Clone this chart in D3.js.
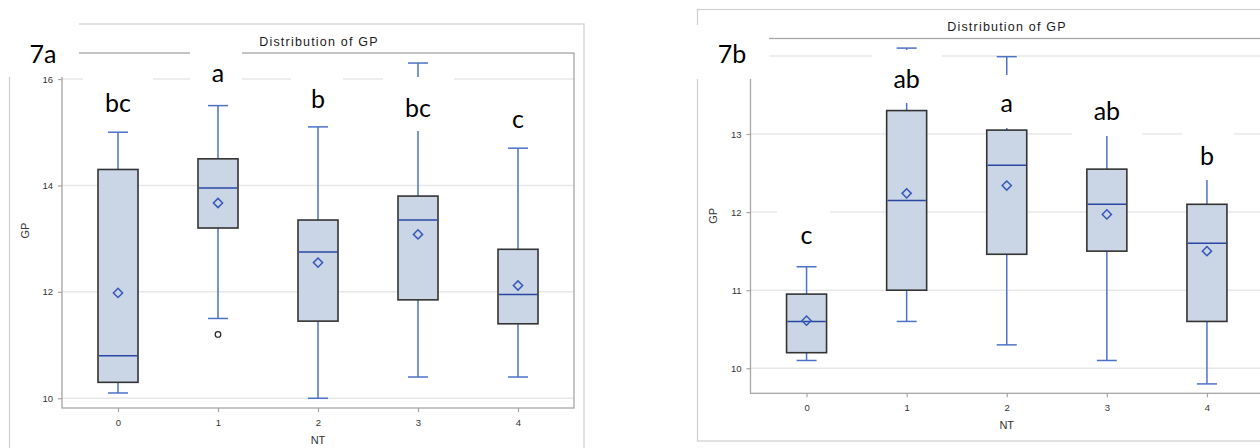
<!DOCTYPE html>
<html>
<head>
<meta charset="utf-8">
<script src="https://cdn.jsdelivr.net/npm/d3@7/dist/d3.min.js"></script>
<style>
  html, body { margin: 0; padding: 0; background: #fff; }
  svg { display: block; }
</style>
</head>
<body>
<svg id="chart" width="1260" height="448"></svg>
<script>
// ---- data: GP by NT, two trials ----
const categories = ["0", "1", "2", "3", "4"];

// Trial 7a
const gpA_min    = [10.1, 11.5, 10.0, 10.4, 10.4];
const gpA_q1     = [10.3, 13.2, 11.45, 11.85, 11.4];
const gpA_median = [10.8, 13.95, 12.75, 13.35, 11.95];
const gpA_q3     = [14.3, 14.5, 13.35, 13.8, 12.8];
const gpA_max    = [15.0, 15.5, 15.1, 16.3, 14.7];
const gpA_mean   = [11.98, 13.67, 12.55, 13.08, 12.12];
const gpA_outliers = [[], [11.2], [], [], []];
const lettersA   = ["bc", "a", "b", "bc", "c"];
const gridA      = [10, 12, 14, 16];
const tickLabelsA = [10, 12, 14, 16];

// Trial 7b
const gpB_min    = [10.1, 10.6, 10.3, 10.1, 9.8];
const gpB_q1     = [10.2, 11.0, 11.46, 11.5, 10.6];
const gpB_median = [10.6, 12.15, 12.6, 12.1, 11.6];
const gpB_q3     = [10.95, 13.3, 13.05, 12.55, 12.1];
const gpB_max    = [11.3, 14.1, 13.99, 13.2, 12.5];
const gpB_mean   = [10.61, 12.24, 12.34, 11.97, 11.5];
const gpB_outliers = [[], [], [], [], []];
const lettersB   = ["c", "ab", "a", "ab", "b"];
const gridB      = [10, 11, 12, 13, 14];
const tickLabelsB = [10, 11, 12, 13];

const titleText = "Distribution of GP";
const xTitle = "NT";
const yTitle = "GP";

// ---- layout of each panel ----
const panels = [
  {
    tag: "7a",
    min: gpA_min, q1: gpA_q1, med: gpA_median, q3: gpA_q3, max: gpA_max,
    mean: gpA_mean, out: gpA_outliers, letters: lettersA, grid: gridA, tickLabels: tickLabelsA,
    outer: { x0: 9.5, y0: 24, x1: 584, y1: 470 },
    plot: { x0: 62, y0: 53, x1: 574, y1: 408 },
    yDomain: [10, 16], yRange: [398.3, 79],
    titleY: 46, titleX: 319,
    xTickLabelY: 423, xTitleY: 444, yTitleX: 26,
    tagBox: [0, 0, 79, 77], tagPos: [43, 63],
    // white label plates [x, y, w, h] and letter baselines
    plates: [[83, 70, 70, 55], [190, 46, 52, 52], [291, 66, 52, 54], [383, 77, 71, 54], [494, 98, 50, 44]],
    letterY: [112, 82, 108, 117, 128]
  },
  {
    tag: "7b",
    min: gpB_min, q1: gpB_q1, med: gpB_median, q3: gpB_q3, max: gpB_max,
    mean: gpB_mean, out: gpB_outliers, letters: lettersB, grid: gridB, tickLabels: tickLabelsB,
    outer: { x0: 697.5, y0: 9.5, x1: 1290, y1: 441 },
    plot: { x0: 750.5, y0: 38.5, x1: 1263, y1: 393.3 },
    yDomain: [10, 13], yRange: [368.3, 134],
    titleY: 30.5, titleX: 1007,
    xTickLabelY: 408, xTitleY: 429, yTitleX: 714,
    tagBox: [690, 25, 79, 54], tagPos: [732, 63],
    plates: [[777, 205, 53, 52], [872, 50, 70, 53], [982, 75, 54, 53], [1072, 95, 70, 41], [1182, 128, 52, 52]],
    letterY: [244, 88, 112, 120, 165]
  }
];

const svg = d3.select("#chart");

const C = {
  frame: "#cfcfcf",
  axis: "#a6a6a6",
  grid: "#e8e8e8",
  fill: "#cad5e5",
  boxStroke: "#333333",
  median: "#2747a3",
  whisker: "#4d72c6",
  mean: "#3559b8",
  text: "#333333"
};

panels.forEach(p => {
  const g = svg.append("g");

  const x = d3.scalePoint().domain(categories).range([p.plot.x0, p.plot.x1]).padding(0.56);
  const y = d3.scaleLinear().domain(p.yDomain).range(p.yRange);

  // outer graph border
  g.append("rect")
    .attr("x", p.outer.x0).attr("y", p.outer.y0)
    .attr("width", p.outer.x1 - p.outer.x0).attr("height", p.outer.y1 - p.outer.y0)
    .attr("fill", "none").attr("stroke", C.frame).attr("stroke-width", 1.2);

  // title
  g.append("text")
    .attr("x", p.titleX).attr("y", p.titleY)
    .attr("text-anchor", "middle")
    .attr("font-family", "Liberation Sans, Arial, sans-serif")
    .attr("font-size", 12.5).attr("letter-spacing", 1.2)
    .attr("fill", "#1a1a1a")
    .text(titleText);

  // gridlines
  g.append("g").selectAll("line").data(p.grid).join("line")
    .attr("x1", p.plot.x0).attr("x2", p.plot.x1)
    .attr("y1", d => y(d)).attr("y2", d => y(d))
    .attr("stroke", C.grid).attr("stroke-width", 1.5);

  // plot wall
  g.append("rect")
    .attr("x", p.plot.x0).attr("y", p.plot.y0)
    .attr("width", p.plot.x1 - p.plot.x0).attr("height", p.plot.y1 - p.plot.y0)
    .attr("fill", "none").attr("stroke", C.axis).attr("stroke-width", 1.3);

  // axes
  const yAxis = g.append("g")
    .attr("transform", `translate(${p.plot.x0},0)`)
    .call(d3.axisLeft(y).tickValues(p.tickLabels).tickSize(4).tickPadding(5).tickFormat(d3.format("d")));
  const xAxis = g.append("g")
    .attr("transform", `translate(0,${p.plot.y1})`)
    .call(d3.axisBottom(x).tickSize(4).tickPadding(8));
  [yAxis, xAxis].forEach(a => {
    a.select(".domain").remove();
    a.selectAll(".tick line").attr("stroke", C.axis).attr("stroke-width", 1.2);
    a.selectAll(".tick text")
      .attr("font-family", "Liberation Sans, Arial, sans-serif")
      .attr("font-size", 9.5).attr("fill", C.text);
  });
  xAxis.selectAll(".tick text").attr("dy", null).attr("y", p.xTickLabelY - p.plot.y1)
    .attr("dominant-baseline", "middle");

  // axis titles
  g.append("text")
    .attr("x", x(categories[2])).attr("y", p.xTitleY)
    .attr("text-anchor", "middle")
    .attr("font-family", "Liberation Sans, Arial, sans-serif")
    .attr("font-size", 11).attr("fill", C.text)
    .text(xTitle);
  g.append("text")
    .attr("transform", `translate(${p.yTitleX},${(p.plot.y0 + p.plot.y1) / 2}) rotate(-90)`)
    .attr("text-anchor", "middle").attr("dominant-baseline", "middle")
    .attr("font-family", "Liberation Sans, Arial, sans-serif")
    .attr("font-size", 11).attr("fill", C.text)
    .text(yTitle);

  // box plots
  const boxW = 40, capW = 20;
  const items = categories.map((c, i) => ({
    c, min: p.min[i], q1: p.q1[i], med: p.med[i], q3: p.q3[i], max: p.max[i], mean: p.mean[i], out: p.out[i]
  }));
  const bx = g.append("g").selectAll("g").data(items).join("g");

  // whiskers
  bx.append("line")
    .attr("x1", d => x(d.c)).attr("x2", d => x(d.c))
    .attr("y1", d => y(d.q3)).attr("y2", d => y(d.max))
    .attr("stroke", C.whisker).attr("stroke-width", 1.5);
  bx.append("line")
    .attr("x1", d => x(d.c)).attr("x2", d => x(d.c))
    .attr("y1", d => y(d.q1)).attr("y2", d => y(d.min))
    .attr("stroke", C.whisker).attr("stroke-width", 1.5);
  // caps
  ["max", "min"].forEach(k => {
    bx.append("line")
      .attr("x1", d => x(d.c) - capW / 2).attr("x2", d => x(d.c) + capW / 2)
      .attr("y1", d => y(d[k])).attr("y2", d => y(d[k]))
      .attr("stroke", C.whisker).attr("stroke-width", 1.5);
  });
  // boxes
  bx.append("rect")
    .attr("x", d => x(d.c) - boxW / 2).attr("width", boxW)
    .attr("y", d => y(d.q3)).attr("height", d => y(d.q1) - y(d.q3))
    .attr("fill", C.fill).attr("stroke", C.boxStroke).attr("stroke-width", 1.6);
  // medians
  bx.append("line")
    .attr("x1", d => x(d.c) - boxW / 2 + 0.8).attr("x2", d => x(d.c) + boxW / 2 - 0.8)
    .attr("y1", d => y(d.med)).attr("y2", d => y(d.med))
    .attr("stroke", C.median).attr("stroke-width", 1.5);
  // means (diamond)
  bx.append("path")
    .attr("d", d => {
      const cx = x(d.c), cy = y(d.mean), r = 4.6;
      return `M${cx},${cy - r}L${cx + r},${cy}L${cx},${cy + r}L${cx - r},${cy}Z`;
    })
    .attr("fill", "none").attr("stroke", C.mean).attr("stroke-width", 1.5);
  // outliers
  bx.each(function (d) {
    d3.select(this).selectAll("circle").data(d.out).join("circle")
      .attr("cx", x(d.c)).attr("cy", v => y(v)).attr("r", 2.8)
      .attr("fill", "#fff").attr("stroke", "#222").attr("stroke-width", 1.2);
  });

  // white plates under the group letters and the panel tag
  const plates = g.append("g");
  plates.append("rect")
    .attr("x", p.tagBox[0]).attr("y", p.tagBox[1])
    .attr("width", p.tagBox[2]).attr("height", p.tagBox[3])
    .attr("fill", "#fff");
  plates.selectAll("rect.plate").data(p.plates).join("rect").attr("class", "plate")
    .attr("x", d => d[0]).attr("y", d => d[1]).attr("width", d => d[2]).attr("height", d => d[3])
    .attr("fill", "#fff");

  const letterFont = "Lato, 'Open Sans', sans-serif";
  g.append("text")
    .attr("x", p.tagPos[0]).attr("y", p.tagPos[1])
    .attr("text-anchor", "middle")
    .attr("font-family", letterFont).attr("font-size", 25).attr("fill", "#000")
    .text(p.tag);
  g.append("g").selectAll("text").data(p.letters).join("text")
    .attr("x", (d, i) => x(categories[i])).attr("y", (d, i) => p.letterY[i])
    .attr("text-anchor", "middle")
    .attr("font-family", letterFont).attr("font-size", 25).attr("fill", "#000")
    .text(d => d);
});
</script>
</body>
</html>
